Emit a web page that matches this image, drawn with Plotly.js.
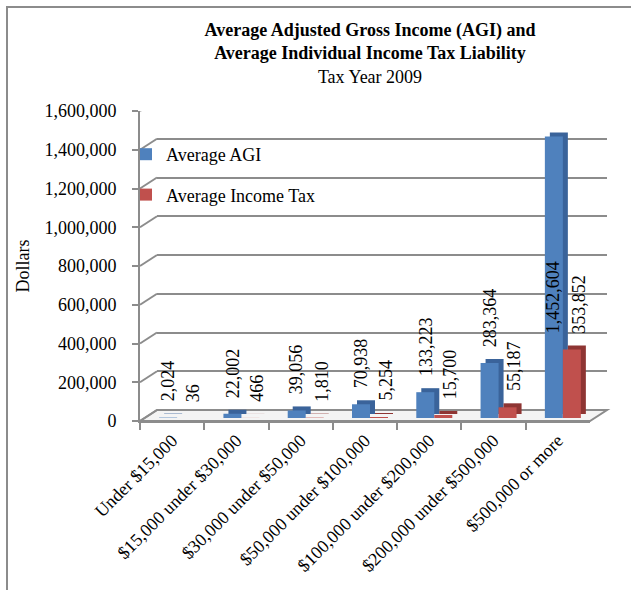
<!DOCTYPE html>
<html>
<head>
<meta charset="utf-8">
<script src="https://cdn.plot.ly/plotly-3.0.1.min.js"></script>
<style>html,body{margin:0;padding:0;background:#fff;}#chart{width:631px;height:590px;}</style>
</head>
<body>
<div id="chart"></div>
<script>
// ---- data ----
const categories = ["Under $15,000", "$15,000 under $30,000", "$30,000 under $50,000",
  "$50,000 under $100,000", "$100,000 under $200,000", "$200,000 under $500,000", "$500,000 or more"];
const avgAGI = [2024, 22002, 39056, 70938, 133223, 283364, 1452604];
const avgTax = [36, 466, 1810, 5254, 15700, 55187, 353852];
const seriesNames = ["Average AGI", "Average Income Tax"];
const yTickVals = [0, 200000, 400000, 600000, 800000, 1000000, 1200000, 1400000, 1600000];

// ---- layout helpers ----
const W = 631, H = 590;
const px = x => x / W;
const py = y => (H - y) / H;
const FONT = '"Liberation Serif", "Times New Roman", serif';
const GRID = '#8c8c8c';

// front plane (axes), back wall (grid), bars, bar depth
const front = {l: 140, r: 590, b: 421, t: 111};
const back  = {l: 157, r: 607, b: 410, t: 100};
const bars  = {l: 145, r: 595, b: 418, t: 108};
const depth = {l: 150, r: 600, b: 414, t: 104};
const dom = p => ({x: [px(p.l), px(p.r)], y: [py(p.b), py(p.t)]});

const blue = '#4F81BD', blueSide = '#3A639A';
const red = '#C0504D', redSide = '#8E3533';

const traces = [
  // invisible traces to realise the front-axis and back-wall subplots
  {type: 'scatter', mode: 'none', x: categories, y: avgAGI, xaxis: 'x', yaxis: 'y',
   showlegend: false, hoverinfo: 'skip'},
  {type: 'scatter', mode: 'none', x: categories, y: avgAGI, xaxis: 'x2', yaxis: 'y2',
   showlegend: false, hoverinfo: 'skip'},
  // depth (side/top faces)
  {type: 'bar', x: categories, y: avgAGI, xaxis: 'x3', yaxis: 'y3', marker: {color: blueSide},
   showlegend: false, hoverinfo: 'skip'},
  {type: 'bar', x: categories, y: avgTax, xaxis: 'x3', yaxis: 'y3', marker: {color: redSide},
   showlegend: false, hoverinfo: 'skip'},
  // front faces
  {type: 'bar', name: seriesNames[0], x: categories, y: avgAGI, xaxis: 'x4', yaxis: 'y4',
   marker: {color: blue}, legendgroup: 'a'},
  {type: 'bar', name: seriesNames[1], x: categories, y: avgTax, xaxis: 'x4', yaxis: 'y4',
   marker: {color: red}, legendgroup: 'b'}
];

const yRange = [0, 1600000];
const xRange = [-0.5, categories.length - 0.5];
const hiddenX = d => ({domain: d.x, type: 'category', range: xRange, showgrid: false, showline: false,
  showticklabels: false, ticks: '', zeroline: false, fixedrange: true});
const hiddenY = d => ({domain: d.y, range: yRange, showgrid: false, showline: false,
  showticklabels: false, ticks: '', zeroline: false, fixedrange: true});

// data labels
const fmt = v => v.toLocaleString('en-US');
const annotations = [];
const labelCap = 1000000; // labels of bars taller than this sit level with the paired label
categories.forEach((c, i) => {
  const aY = avgAGI[i] > labelCap ? avgTax[i] : avgAGI[i];
  annotations.push({xref: 'x4', yref: 'y4', x: c, y: aY, text: fmt(avgAGI[i]), showarrow: false,
    textangle: -90, xanchor: 'center', yanchor: 'bottom', xshift: -9, yshift: 14,
    font: {family: FONT, size: 18, color: '#000'}});
  annotations.push({xref: 'x4', yref: 'y4', x: c, y: avgTax[i], text: fmt(avgTax[i]), showarrow: false,
    textangle: -90, xanchor: 'center', yanchor: 'bottom', xshift: 16, yshift: 14,
    font: {family: FONT, size: 18, color: '#000'}});
});

// shapes: frame, floor, slanted connectors from front axis to back wall
const shapes = [
  {type: 'line', xref: 'paper', yref: 'paper', x0: px(7), x1: px(7), y0: py(H + 5), y1: py(7),
   line: {color: '#8c8c8c', width: 2}},
  {type: 'line', xref: 'paper', yref: 'paper', x0: px(6), x1: px(W + 5), y0: py(7), y1: py(7),
   line: {color: '#8c8c8c', width: 2}},
  {type: 'path', xref: 'paper', yref: 'paper', layer: 'below',
   path: `M ${px(front.l)},${py(front.b)} L ${px(front.r)},${py(front.b)} L ${px(back.r)},${py(back.b)} L ${px(back.l)},${py(back.b)} Z`,
   fillcolor: '#f4f4f4', line: {color: GRID, width: 2}}
];
yTickVals.forEach(v => {
  shapes.push({type: 'line', xref: 'paper', yref: 'y', ysizemode: 'pixel', yanchor: v,
    x0: px(front.l), x1: px(back.l), y0: 0, y1: front.b - back.b, line: {color: GRID, width: 2}});
});

const layout = {
  width: W, height: H,
  margin: {l: 0, r: 0, t: 0, b: 0},
  paper_bgcolor: '#fff', plot_bgcolor: 'rgba(0,0,0,0)',
  font: {family: FONT, size: 18, color: '#000'},
  title: {
    text: '<b>Average Adjusted Gross Income (AGI) and</b><br><b>Average Individual Income Tax Liability</b><br>Tax Year 2009',
    font: {family: FONT, size: 18, color: '#000'},
    x: px(370), xanchor: 'center', xref: 'paper', y: 1 - 36 / H, yanchor: 'top'
  },
  barmode: 'group', bargap: 0.44, bargroupgap: 0,
  hovermode: false,
  showlegend: true,
  legend: {x: px(126), y: py(136), xanchor: 'left', yanchor: 'top', bgcolor: 'rgba(0,0,0,0)',
    font: {family: FONT, size: 18, color: '#000'}, traceorder: 'grouped', tracegroupgap: 14,
    itemwidth: 30},
  xaxis: {domain: dom(front).x, anchor: 'y', type: 'category', range: xRange, tickangle: -45,
    ticks: 'outside', tickson: 'boundaries', ticklen: 7, tickwidth: 2, tickcolor: GRID,
    showline: true, linecolor: GRID, linewidth: 2, showgrid: false, zeroline: false,
    tickfont: {family: FONT, size: 18, color: '#000'}, fixedrange: true},
  yaxis: {domain: dom(front).y, anchor: 'x', range: yRange, tickvals: yTickVals, tickformat: ',',
    ticks: 'outside', ticklen: 6, tickwidth: 2, tickcolor: GRID, ticklabelstandoff: 12,
    showline: true, linecolor: GRID, linewidth: 2, showgrid: false, zeroline: false,
    tickfont: {family: FONT, size: 18, color: '#000'},
    title: {text: 'Dollars', font: {family: FONT, size: 18, color: '#000'}, standoff: 10},
    fixedrange: true},
  xaxis2: Object.assign(hiddenX(dom(back)), {anchor: 'y2'}),
  yaxis2: Object.assign(hiddenY(dom(back)), {anchor: 'x2', showgrid: true, gridcolor: GRID,
    gridwidth: 2, tickvals: yTickVals}),
  xaxis3: Object.assign(hiddenX(dom(depth)), {anchor: 'y3'}),
  yaxis3: Object.assign(hiddenY(dom(depth)), {anchor: 'x3'}),
  xaxis4: Object.assign(hiddenX(dom(bars)), {anchor: 'y4'}),
  yaxis4: Object.assign(hiddenY(dom(bars)), {anchor: 'x4'}),
  annotations: annotations,
  shapes: shapes
};

Plotly.newPlot('chart', traces, layout, {staticPlot: true, displayModeBar: false});
</script>
</body>
</html>
